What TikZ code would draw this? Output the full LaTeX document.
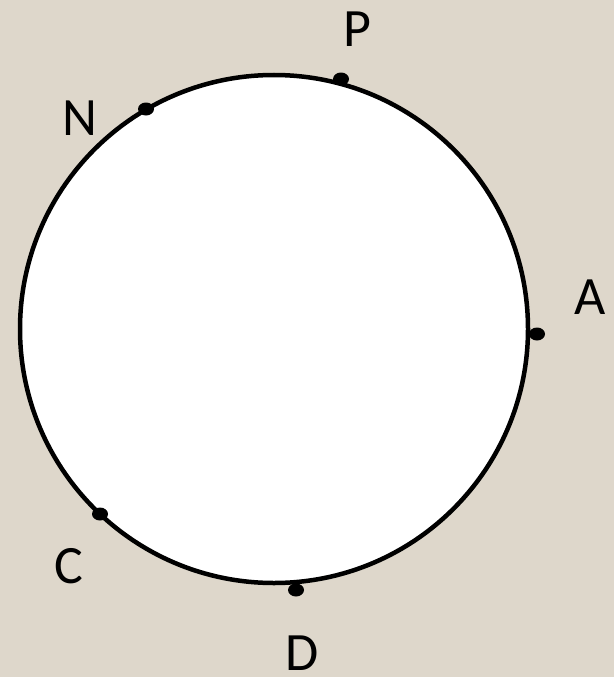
\documentclass[tikz,border=0pt]{standalone}
\usepackage{fontspec}
\setmainfont{Carlito}
\definecolor{bgbeige}{RGB}{222,215,203}
\begin{document}
\begin{tikzpicture}[x=1pt,y=-1pt,
  lbl/.style={font=\fontsize{54}{54}\selectfont,inner sep=0pt,anchor=center}]
\fill[bgbeige] (0,0) rectangle (614,677);
\useasboundingbox (0,0) rectangle (614,677);
\node[circle,draw=black,line width=4.5pt,fill=white,minimum size=508pt,inner sep=0pt] (circ) at (274,329) {};
\coordinate (p) at (341,79);
\coordinate (n) at (146,109);
\coordinate (a) at (537,334);
\coordinate (c) at (100,514);
\coordinate (d) at (296,590);
\foreach \q in {p,n,a,c,d} \fill[black] (\q) ellipse [x radius=8pt, y radius=6.5pt];
\node[lbl] (lp) at (357,29) {P};
\node[lbl] (ln) at (80,118) {N};
\node[lbl] (la) at (590,297) {A};
\node[lbl] (lc) at (69,566) {C};
\node[lbl] (ld) at (302,653) {D};
\end{tikzpicture}
\end{document}
